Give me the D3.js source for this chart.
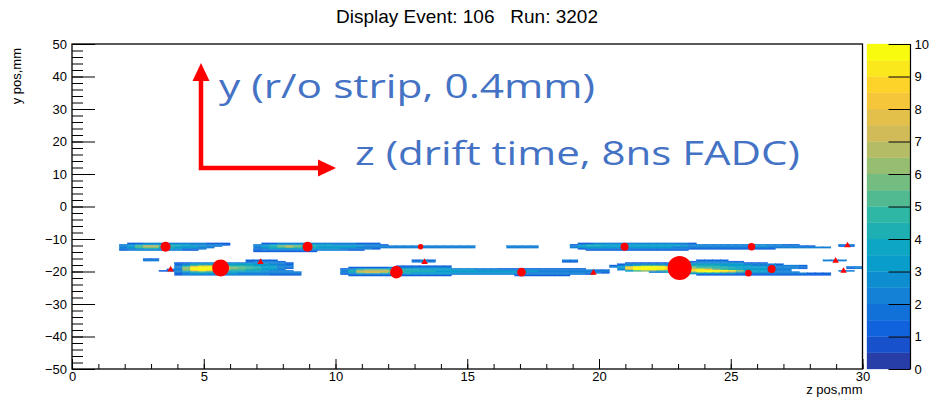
<!DOCTYPE html>
<html>
<head>
<meta charset="utf-8">
<script src="https://cdn.jsdelivr.net/npm/d3@7"></script>
<style>
  body { margin: 0; background: #fff; }
  text { font-family: "Liberation Sans", Arial, Helvetica, sans-serif; }
</style>
</head>
<body>
<svg id="chart" width="930" height="398"></svg>
<script>
// ---------------------------------------------
// Event display data: 2D hit map (z bins 0.3mm, y strips 0.4mm)
// each row: y = strip centre (mm), i0 = first z bin, v = amplitude per z bin
// ---------------------------------------------
const zBin = 0.3, yBin = 0.4;

const trackA = [
  { y: -11.4, i0: 7, v: [1,1,2,2,2,2,2,2,2,2,1,1,1] },
  { y: -11.8, i0: 6, v: [2,2,3,3,3,3,3,3,3,2,2,2,2,1] },
  { y: -12.2, i0: 6, v: [2,3,5,7,7,5,4,4,3,3,3,2,2] },
  { y: -12.6, i0: 6, v: [2,3,5,6,6,4,4,3,3,3,2,2] },
  { y: -13.0, i0: 6, v: [2,2,3,4,4,3,3,3,2,2,2] },
  { y: -13.4, i0: 6, v: [1,2,2,2,2,2,2,2,1,1] }
];

const trackB = [
  { y: -11.4, i0: 24, v: [1,1,2,2,2,2,2,2,2,2,2,2,1,1,1] },
  { y: -11.8, i0: 23, v: [2,2,3,3,3,3,3,3,3,3,2,2,2,2,2,2,1] },
  { y: -12.2, i0: 23, v: [2,3,4,6,7,6,5,4,3,3,3,3,3,3,2,2,2,2,2,2,2,2,2,2,2,2,2,2] },
  { y: -12.6, i0: 23, v: [2,3,4,5,6,5,4,4,3,3,3,3,3,2,2,2,2,2,2,2,2,2,2,2,2,2,2,2] },
  { y: -13.0, i0: 23, v: [2,2,3,3,3,3,3,3,3,3,3,2,2,2,2,1] },
  { y: -13.4, i0: 23, v: [1,2,2,2,2,2,2,2,2,2,2,2,1,1] },
  { y: -13.8, i0: 23, v: [1,1,1,1,1,1,1,1] },
  { y: -12.2, i0: 55, v: [2,2,2,2] },
  { y: -12.6, i0: 55, v: [2,2,2,2] }
];

const trackC = [
  { y: -11.4, i0: 64, v: [1,1,2,2,2,2,2,2,2,2,2,2,2,2,1] },
  { y: -11.8, i0: 63, v: [1,2,3,3,3,3,3,3,3,3,3,3,3,3,2,2,2,2,2,2,2,2,2,2,2,2,2,1,1] },
  { y: -12.2, i0: 63, v: [2,3,4,4,3,3,3,3,3,3,3,3,3,3,3,2,2,2,2,2,2,2,2,3,3,2,2,2,2,1,1] },
  { y: -12.6, i0: 63, v: [2,3,3,3,3,3,3,3,3,3,3,3,3,2,2,2,2,2,2,2,2,2,2,2,2,2,2,2,2,2,2,2,2] },
  { y: -13.0, i0: 64, v: [1,2,2,2,2,2,2,2,2,2,2,2,2,2,1,1,1,1,1,1,1,1,1,1,1] },
  { y: -13.4, i0: 65, v: [1,1,1,1,1,1,1,1,1,1,1,1,1] },
  { y: -11.8, i0: 97, v: [2,2] },
  { y: -12.2, i0: 97, v: [1,1] }
];

const trackD = [
  { y: -16.2, i0: 9, v: [1,1] },
  { y: -16.6, i0: 9, v: [2,2] },
  { y: -16.6, i0: 22, v: [1,1,1,1] },
  { y: -17.0, i0: 22, v: [1,2,2,2,1] },
  { y: -17.4, i0: 13, v: [1,1,2,2,2,2,2,2,2,2,2,2,2,2,1] },
  { y: -17.8, i0: 13, v: [1,2,3,3,3,3,3,3,3,3,3,3,2,2,1] },
  { y: -18.2, i0: 13, v: [2,3,5,6,6,5,4,4,4,4,3,3,3,2,2] },
  { y: -18.6, i0: 13, v: [2,5,8,9,9,8,6,5,5,4,4,3,3,2,2] },
  { y: -19.0, i0: 13, v: [2,6,10,10,10,10,7,6,5,5,4,3,3,2,1] },
  { y: -19.4, i0: 12, v: [1,2,6,10,10,10,9,7,5,5,4,4,3,3,2] },
  { y: -19.8, i0: 11, v: [1,1,2,5,8,9,8,6,5,4,4,3,3,3,2,2,2] },
  { y: -20.2, i0: 13, v: [2,3,4,5,4,4,3,3,3,3,3,2,2,2,2,2] },
  { y: -20.6, i0: 13, v: [1,2,3,3,3,3,3,3,2,2,2,2,2,2,2,2] },
  { y: -21.0, i0: 13, v: [1,2,2,2,2,2,2,2,2,2,2,2,1,1,1,1] }
];

const trackE = [
  { y: -16.6, i0: 43, v: [1,2,1] },
  { y: -17.0, i0: 43, v: [2,2,2] },
  { y: -16.6, i0: 62, v: [2,2] },
  { y: -17.0, i0: 62, v: [1,1] },
  { y: -18.4, i0: 41, v: [1,1,1,1,1,1,1] },
  { y: -18.8, i0: 35, v: [1,1,1,1,1,2,2,2,2,2,2,2,2] },
  { y: -19.2, i0: 34, v: [1,2,3,3,3,3,3,3,3,3,3,3,3,3,2,2,2,2,2,2,1,1,1,1,1,1,1,1,1,1,1] },
  { y: -19.6, i0: 34, v: [2,3,5,6,6,6,5,4,4,4,3,3,3,3,3,3,3,2,2,2,2,2,2,2,2,2,2,2,2,2,2,2,1,1] },
  { y: -20.0, i0: 34, v: [2,4,7,7,7,7,6,5,4,4,4,4,3,3,3,3,3,3,3,3,3,3,3,3,3,2,2,2,2,2,2,2,2,2] },
  { y: -20.4, i0: 34, v: [2,3,6,7,7,6,5,4,4,3,3,3,3,3,3,3,3,3,3,3,3,3,3,2,2,2,2,2,2,2,2,2,2,1] },
  { y: -20.8, i0: 34, v: [1,2,3,3,3,3,3,3,3,3,3,3,3,3,2,2,2,2,2,2,2,2,2,2,2,2,2,2,2,2,2,1] },
  { y: -21.2, i0: 35, v: [1,1,1,1,1,1,1,1,1,1,1,1,1,0,0,0,0,0,0,0,0,1,1,1,1,1,1,1] }
];

const trackF = [
  { y: -16.6, i0: 79, v: [1,1,1,1] },
  { y: -17.0, i0: 77, v: [1,1,2,2,2,2,1,1] },
  { y: -17.4, i0: 70, v: [1,1,1,1,1,1,2,2,2,2,2,2,2,2,2,1,1,1] },
  { y: -17.8, i0: 69, v: [1,2,2,2,2,2,2,3,3,3,3,3,3,3,3,3,2,2,2,2,1] },
  { y: -18.2, i0: 68, v: [1,2,3,4,5,5,5,4,4,4,4,4,4,4,3,3,3,3,2,2,2,2,2,2,1] },
  { y: -18.6, i0: 68, v: [2,3,7,9,10,10,9,8,6,5,5,4,4,4,4,3,3,3,3,3,2,2,2,2,2] },
  { y: -19.0, i0: 69, v: [3,9,10,10,10,10,9,8,6,6,5,5,4,4,4,3,3,3,3,2,2,2,2,1] },
  { y: -19.4, i0: 69, v: [2,7,10,10,10,9,8,7,7,8,9,8,6,5,4,4,3,3,3,2,2,2] },
  { y: -19.8, i0: 70, v: [3,5,6,6,5,5,5,6,9,10,10,10,10,9,6,4,3,3,3,2,2] },
  { y: -20.2, i0: 73, v: [2,2,3,3,4,6,9,10,9,8,7,5,4,3,3,2,2,2,2] },
  { y: -20.6, i0: 76, v: [2,2,3,3,3,3,3,3,2,2,2,2,2,2,2,2,2,1,1,1] },
  { y: -21.0, i0: 79, v: [1,1,1,1,1,1,1,1,1,1,1,1,1,1,1,1,1] },
  { y: -16.6, i0: 95, v: [2,2,2] },
  { y: -18.6, i0: 98, v: [2,2] },
  { y: -19.0, i0: 98, v: [1,2] },
  { y: -19.8, i0: 97, v: [2,2] }
];

// reconstructed clusters (red circles, size ~ charge) and single hits (triangles)
const clusterZ = [3.55, 8.94, 13.23, 20.97, 25.79, 5.64, 12.31, 17.06, 23.06, 25.67, 26.55];
const clusterY = [-12.4, -12.4, -12.4, -12.4, -12.4, -18.9, -20.2, -20.2, -18.9, -20.5, -19.2];
const clusterQ = [175, 175, 50, 110, 95, 500, 275, 130, 1000, 75, 110];

const hitZ = [3.74, 7.15, 13.38, 19.79, 29.43, 28.98, 29.28];
const hitY = [-19.4, -17.1, -17.1, -20.4, -12.0, -16.7, -19.8];

const xTicks = d3.range(0, 31, 5);
const yTicks = d3.range(-50, 51, 10);
const zTicks = d3.range(0, 11, 1);

// ROOT kBird palette, 20 contour levels from 0 to 10
const birdStops = [0.0000, 0.1250, 0.2500, 0.3750, 0.5000, 0.6250, 0.7500, 0.8750, 1.0000];
const birdRed   = [0.2082, 0.0592, 0.0780, 0.0232, 0.1802, 0.5301, 0.8186, 0.9956, 0.9764];
const birdGreen = [0.1664, 0.3599, 0.5041, 0.6419, 0.7178, 0.7492, 0.7328, 0.7862, 0.9832];
const birdBlue  = [0.5293, 0.8684, 0.8385, 0.7914, 0.6425, 0.4662, 0.3499, 0.1968, 0.0539];
const nLevels = 20, zMin = 0, zMax = 10;

// ===================
// layout and scales
// ===================
const svg = d3.select("#chart");
const frame = { left: 72, right: 862.5, top: 44, bottom: 369 };

const x = d3.scaleLinear().domain([0, 30]).range([frame.left, frame.right]);
const y = d3.scaleLinear().domain([-50, 50]).range([frame.bottom, frame.top]);
const zScale = d3.scaleLinear().domain([zMin, zMax]).range([frame.bottom, frame.top]);
const rScale = d3.scaleSqrt().domain([0, 1000]).range([0, 12]);

const bird = d3.scaleLinear()
  .domain(birdStops)
  .range(birdStops.map((s, k) => d3.rgb(birdRed[k] * 255, birdGreen[k] * 255, birdBlue[k] * 255)))
  .interpolate(d3.interpolateRgb);

// same colour pick as THistPainter: 255 palette colours spread on 20 levels
const levelColor = d3.range(nLevels).map(c => bird(Math.floor((c + 0.99) * 255 / nLevels) / 254));
function colorOf(v) {
  let lev = Math.floor((v - zMin) / ((zMax - zMin) / nLevels));
  return levelColor[Math.max(0, Math.min(nLevels - 1, lev))];
}

// flatten rows into cells
const cells = [];
[trackA, trackB, trackC, trackD, trackE, trackF].forEach(track => {
  track.forEach(row => {
    row.v.forEach((v, j) => {
      if (v > 0) cells.push({ z0: (row.i0 + j) * zBin, y0: row.y - yBin / 2, v: v });
    });
  });
});

// ===========
// histogram
// ===========
svg.append("g")
  .selectAll("rect")
  .data(cells)
  .join("rect")
  .attr("x", d => x(d.z0))
  .attr("y", d => y(d.y0 + yBin))
  .attr("width", d => x(d.z0 + zBin) - x(d.z0))
  .attr("height", d => y(d.y0) - y(d.y0 + yBin))
  .attr("fill", d => colorOf(d.v))
  .attr("stroke", d => colorOf(d.v))
  .attr("stroke-width", 0.35);

// clusters and hits
svg.append("g")
  .selectAll("circle")
  .data(clusterZ.map((z, k) => ({ z: z, y: clusterY[k], q: clusterQ[k] })))
  .join("circle")
  .attr("cx", d => x(d.z))
  .attr("cy", d => y(d.y))
  .attr("r", d => rScale(d.q))
  .attr("fill", "#ff0000");

svg.append("g")
  .selectAll("path")
  .data(hitZ.map((z, k) => ({ z: z, y: hitY[k] })))
  .join("path")
  .attr("d", d3.symbol(d3.symbolTriangle, 18))
  .attr("transform", d => `translate(${x(d.z)},${y(d.y)})`)
  .attr("fill", "#ff0000");

// ===========
// axes
// ===========
const fmt = d => d < 0 ? "\u2212" + Math.abs(d) : String(d);

function styleAxis(g) {
  g.select(".domain").remove();
  g.selectAll("line").attr("stroke", "#000");
  g.selectAll("text").attr("font-size", 13).attr("fill", "#000")
    .attr("font-family", '"Liberation Sans", Arial, Helvetica, sans-serif');
}

svg.append("g")
  .attr("transform", `translate(0,${frame.bottom})`)
  .call(d3.axisBottom(x).tickValues(d3.range(0, 31, 1)).tickSize(-5).tickFormat(""))
  .call(styleAxis);
svg.append("g")
  .attr("transform", `translate(0,${frame.bottom})`)
  .call(d3.axisBottom(x).tickValues(xTicks).tickSize(-10).tickPadding(3).tickFormat(fmt))
  .call(styleAxis);

svg.append("g")
  .attr("transform", `translate(${frame.left},0)`)
  .call(d3.axisLeft(y).tickValues(d3.range(-50, 51, 2)).tickSize(-11).tickFormat(""))
  .call(styleAxis);
svg.append("g")
  .attr("transform", `translate(${frame.left},0)`)
  .call(d3.axisLeft(y).tickValues(yTicks).tickSize(-23).tickPadding(5).tickFormat(fmt))
  .call(styleAxis);

svg.append("rect")
  .attr("x", frame.left).attr("y", frame.top)
  .attr("width", frame.right - frame.left).attr("height", frame.bottom - frame.top)
  .attr("fill", "none").attr("stroke", "#000").attr("stroke-width", 1.3);

// axis titles
svg.append("text")
  .attr("x", frame.right).attr("y", 394)
  .attr("text-anchor", "end").attr("font-size", 13)
  .text("z pos,mm");
svg.append("text")
  .attr("transform", "translate(21,48) rotate(-90)")
  .attr("text-anchor", "end").attr("font-size", 13)
  .text("y pos,mm");

// title
svg.append("text")
  .attr("x", 467).attr("y", 23)
  .attr("text-anchor", "middle").attr("font-size", 19)
  .attr("xml:space", "preserve")
  .style("white-space", "pre")
  .text("Display Event: 106   Run: 3202");

// ===========
// palette
// ===========
const palX0 = 867, palX1 = 910.5;
svg.append("g")
  .selectAll("rect")
  .data(d3.range(nLevels))
  .join("rect")
  .attr("x", palX0)
  .attr("width", palX1 - palX0)
  .attr("y", c => zScale(zMin + (c + 1) * (zMax - zMin) / nLevels))
  .attr("height", c => zScale(zMin + c * (zMax - zMin) / nLevels) - zScale(zMin + (c + 1) * (zMax - zMin) / nLevels))
  .attr("fill", c => levelColor[c])
  .attr("stroke", c => levelColor[c])
  .attr("stroke-width", 0.3);

svg.append("g")
  .attr("transform", `translate(${palX1},0)`)
  .call(d3.axisRight(zScale).tickValues(zTicks).tickSize(-22).tickPadding(4).tickFormat(fmt))
  .call(styleAxis);
svg.append("line")
  .attr("x1", palX1).attr("x2", palX1)
  .attr("y1", frame.top).attr("y2", frame.bottom)
  .attr("stroke", "#000").attr("stroke-width", 1.2);

// ===========
// annotation
// ===========
const ann = svg.append("g");
ann.append("path")
  .attr("d", "M201,80 L201,168 L320,168")
  .attr("fill", "none")
  .attr("stroke", "#ff0000")
  .attr("stroke-width", 4.5);
ann.append("path")
  .attr("d", "M201,63 L192.5,81 L209.5,81 Z")
  .attr("fill", "#ff0000");
ann.append("path")
  .attr("d", "M336,168 L318,159.5 L318,176.5 Z")
  .attr("fill", "#ff0000");

ann.append("text")
  .attr("x", 219).attr("y", 98)
  .attr("font-size", 32)
  .attr("fill", "#4472C4")
  .attr("textLength", 376).attr("lengthAdjust", "spacingAndGlyphs")
  .style("font-family", '"Open Sans", Lato, sans-serif')
  .text("y (r/o strip, 0.4mm)");
ann.append("text")
  .attr("x", 355).attr("y", 165)
  .attr("font-size", 32)
  .attr("fill", "#4472C4")
  .attr("textLength", 445).attr("lengthAdjust", "spacingAndGlyphs")
  .style("font-family", '"Open Sans", Lato, sans-serif')
  .text("z (drift time, 8ns FADC)");
</script>
</body>
</html>
